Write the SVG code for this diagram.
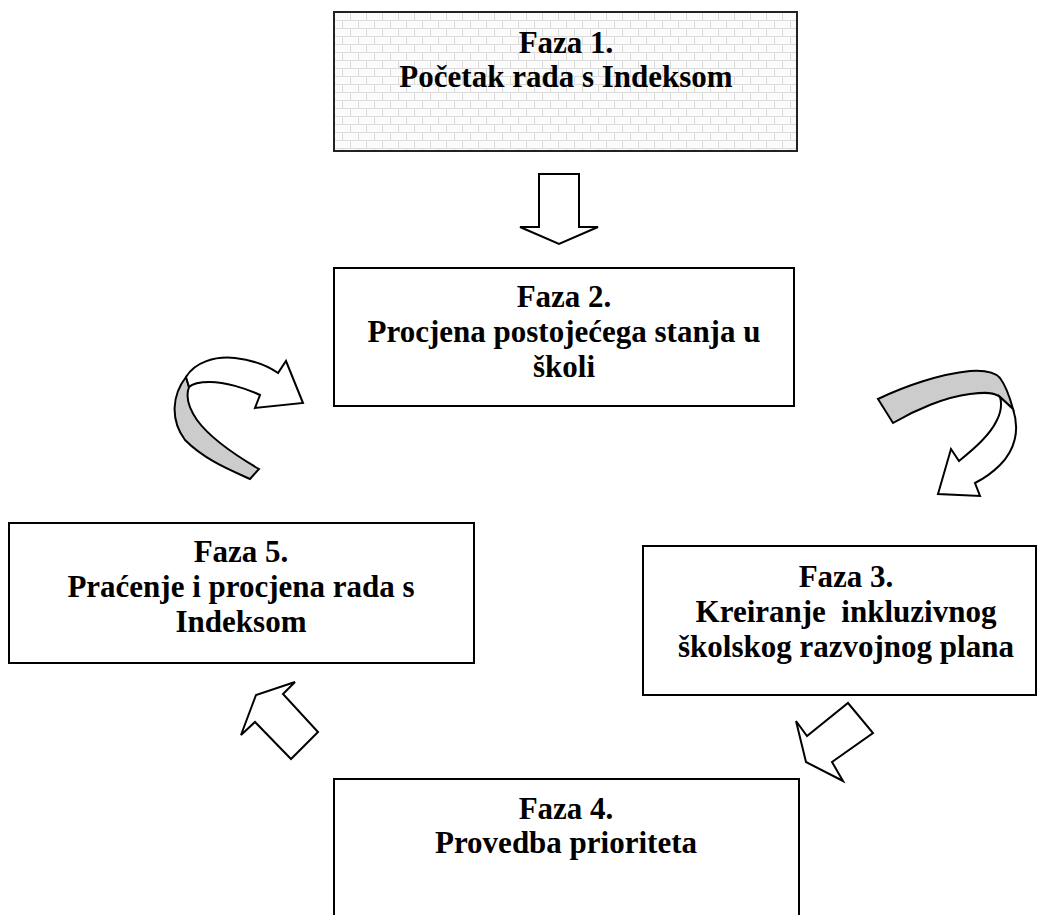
<svg xmlns="http://www.w3.org/2000/svg" width="1038" height="915" viewBox="0 0 1038 915">
<defs>
<pattern id="brick" width="16" height="16" patternUnits="userSpaceOnUse" x="334" y="12">
<rect width="16" height="16" fill="#fbfbfb"/>
<path d="M0 0.5H16M0 8.5H16M0.5 0V8M8.5 8V16" stroke="#dcdcdc" stroke-width="1" fill="none"/>
</pattern>
<style>
.box{fill:#fff;stroke:#000;stroke-width:2}
.t{font-family:"Liberation Serif","Times New Roman",serif;font-weight:bold;font-size:31px;fill:#000;text-anchor:middle}
.arr{fill:#fff;stroke:#000;stroke-width:2;stroke-linejoin:miter}
.rib{fill:#cccccc;stroke:#000;stroke-width:2}
</style>
</defs>
<g id="faza1">
<rect x="334" y="12" width="463" height="139" fill="url(#brick)" stroke="#222" stroke-width="2"/>
<text class="t" x="566" y="53">Faza 1.</text>
<text class="t" x="566" y="87">Početak rada s Indeksom</text>
</g>
<g id="faza2">
<rect class="box" x="334" y="268" width="460" height="138"/>
<text class="t" x="564" y="307">Faza 2.</text>
<text class="t" x="564" y="342">Procjena postojećega stanja u</text>
<text class="t" x="564" y="377">školi</text>
</g>
<g id="faza5">
<rect class="box" x="9" y="523" width="465" height="140"/>
<text class="t" x="241" y="562">Faza 5.</text>
<text class="t" x="241" y="597">Praćenje i procjena rada s</text>
<text class="t" x="241" y="632">Indeksom</text>
</g>
<g id="faza3">
<rect class="box" x="643" y="546" width="393" height="149"/>
<text class="t" x="846" y="587">Faza 3.</text>
<text class="t" x="846" y="622" xml:space="preserve">Kreiranje  inkluzivnog</text>
<text class="t" x="846" y="657">školskog razvojnog plana</text>
</g>
<g id="faza4">
<rect class="box" x="334" y="779" width="465" height="150"/>
<text class="t" x="566" y="819">Faza 4.</text>
<text class="t" x="566" y="853">Provedba prioriteta</text>
</g>
<g id="connectors">
<path class="arr" d="M539 174H579V227H598L559 244L520 227H539Z"/>
<path class="rib" d="M186 377C172 395 170 420 185 440C205 460 230 470 250 479L259 469C235 455 210 438 197 420C188 407 186 395 189 387Z"/>
<path class="arr" d="M186 377C195 362 215 356 235 358C252 360 268 366 278 373L286 361L303 403L255 408L260 395C245 388 225 382 210 382C200 382 192 384 189 387Z"/>
<path class="rib" d="M878 399C905 386 940 374 970 371C985 370 995 372 1000 378C1006 386 1010 398 1013 409L1000 397C995 392 985 392 970 394C945 397 915 410 893 423Z"/>
<path class="arr" d="M1013 409C1020 430 1015 450 1000 465C993 472 985 478 975 483L980 496L938 494L951 449L959 461C975 448 990 435 997 420C1001 412 1002 404 1000 397Z"/>
<path class="arr" d="M318 732L291 759L255 722L241 735L256 695L295 682L283 694Z"/>
<path class="arr" d="M848 703L873 733L832 762L843 781L806 762L796 721L807 736Z"/>
</g>
</svg>
